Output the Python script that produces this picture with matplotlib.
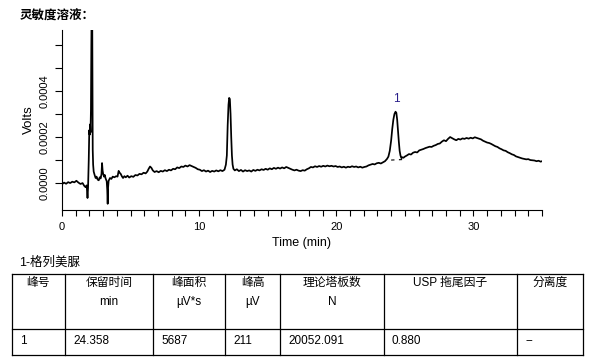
import numpy as np
import matplotlib
matplotlib.use('Agg')
import matplotlib.pyplot as plt

plt.rcParams['font.family'] = ['Liberation Sans', 'Noto Sans CJK SC']

# chromatogram, time in min, signal in 1e-4 V
time_min = [
    0.00, 0.15, 0.30, 0.45, 0.60, 0.75, 0.90, 1.05, 1.20, 1.35, 1.50, 1.62, 1.72, 1.80, 1.86, 1.90,
    1.95, 1.99, 2.02, 2.05, 2.08, 2.11, 2.14, 2.17, 2.20, 2.22, 2.24, 2.27, 2.31, 2.38, 2.45, 2.52,
    2.60, 2.68, 2.75, 2.82, 2.88, 2.92, 2.96, 3.00, 3.06, 3.12, 3.18, 3.26, 3.30, 3.33, 3.36, 3.40,
    3.50, 3.60, 3.70, 3.82, 3.95, 4.05, 4.13, 4.20, 4.28, 4.36, 4.45, 4.55, 4.65, 4.78, 4.90, 5.05,
    5.20, 5.35, 5.50, 5.65, 5.80, 5.95, 6.10, 6.22, 6.32, 6.42, 6.52, 6.62, 6.75, 6.90, 7.05, 7.20,
    7.35, 7.50, 7.65, 7.80, 7.95, 8.10, 8.25, 8.40, 8.55, 8.70, 8.85, 9.00, 9.15, 9.30, 9.45, 9.60,
    9.75, 9.90, 10.05, 10.20, 10.35, 10.50, 10.65, 10.80, 10.95, 11.10, 11.25, 11.40, 11.55, 11.70,
    11.85, 11.95, 12.02, 12.08, 12.14, 12.19, 12.24, 12.29, 12.34, 12.39, 12.44, 12.50, 12.60, 12.75,
    12.90, 13.05, 13.20, 13.35, 13.50, 13.65, 13.80, 13.95, 14.10, 14.25, 14.40, 14.55, 14.70, 14.85,
    15.00, 15.15, 15.30, 15.45, 15.60, 15.75, 15.90, 16.05, 16.20, 16.35, 16.50, 16.65, 16.80, 16.95,
    17.10, 17.25, 17.40, 17.55, 17.70, 17.85, 18.00, 18.15, 18.30, 18.45, 18.60, 18.75, 18.90, 19.05,
    19.20, 19.35, 19.50, 19.65, 19.80, 19.95, 20.10, 20.25, 20.40, 20.55, 20.70, 20.85, 21.00, 21.15,
    21.30, 21.45, 21.60, 21.75, 21.90, 22.05, 22.20, 22.35, 22.50, 22.65, 22.80, 22.95, 23.10, 23.25,
    23.40, 23.55, 23.70, 23.80, 23.90, 24.00, 24.08, 24.16, 24.24, 24.32, 24.38, 24.44, 24.50, 24.56,
    24.62, 24.68, 24.75, 24.82, 24.90, 25.00, 25.15, 25.30, 25.45, 25.60, 25.75, 25.90, 26.05, 26.20,
    26.35, 26.50, 26.65, 26.80, 26.95, 27.10, 27.25, 27.40, 27.55, 27.70, 27.85, 28.00, 28.15, 28.30,
    28.45, 28.60, 28.75, 28.90, 29.05, 29.20, 29.35, 29.50, 29.65, 29.80, 29.95, 30.10, 30.25, 30.40,
    30.55, 30.70, 30.85, 31.00, 31.15, 31.30, 31.45, 31.60, 31.75, 31.90, 32.05, 32.20, 32.35, 32.50,
    32.65, 32.80, 32.95, 33.10, 33.25, 33.40, 33.55, 33.70, 33.85, 34.00, 34.15, 34.30, 34.45, 34.60,
    34.75, 34.90, 35.00,
]
signal = [
    -0.05, 0.02, -0.03, 0.04, 0.00, 0.06, 0.03, 0.10, 0.02, -0.04, 0.00, -0.12, -0.18, -0.10, -0.65, -0.20,
    1.00, 2.30, 2.10, 2.55, 2.20, 3.20, 6.00, 8.00, 8.00, 4.00, 1.45, 0.80, 0.50, 0.35, 0.22, 0.28,
    0.15, 0.12, 0.25, 0.20, 0.40, 0.87, 0.55, 0.40, 0.28, 0.35, 0.20, 0.08, -0.30, -0.90, -0.20, 0.10,
    0.22, 0.18, 0.28, 0.25, 0.30, 0.28, 0.53, 0.45, 0.40, 0.30, 0.22, 0.30, 0.25, 0.32, 0.24, 0.30,
    0.27, 0.35, 0.33, 0.40, 0.38, 0.45, 0.42, 0.50, 0.62, 0.72, 0.66, 0.55, 0.48, 0.52, 0.47, 0.53,
    0.50, 0.56, 0.52, 0.58, 0.55, 0.62, 0.60, 0.68, 0.65, 0.72, 0.70, 0.76, 0.72, 0.78, 0.74, 0.70,
    0.66, 0.60, 0.58, 0.52, 0.56, 0.50, 0.54, 0.48, 0.53, 0.50, 0.55, 0.51, 0.56, 0.52,
    0.58, 0.80, 1.20, 2.50, 3.40, 3.70, 3.65, 3.00, 2.00, 1.20, 0.80, 0.62, 0.55, 0.60,
    0.52, 0.57, 0.50, 0.56, 0.52, 0.55, 0.50, 0.57, 0.53, 0.58, 0.55, 0.60, 0.57, 0.62,
    0.58, 0.64, 0.60, 0.66, 0.62, 0.67, 0.63, 0.68, 0.64, 0.70, 0.66, 0.62, 0.58, 0.55,
    0.58, 0.54, 0.52, 0.56, 0.54, 0.60, 0.64, 0.70, 0.68, 0.73, 0.70, 0.74, 0.71, 0.75,
    0.72, 0.76, 0.73, 0.75, 0.72, 0.74, 0.70, 0.72, 0.68, 0.71, 0.67, 0.71, 0.69, 0.73,
    0.70, 0.72, 0.68, 0.71, 0.67, 0.70, 0.72, 0.77, 0.80, 0.83, 0.81, 0.86, 0.88, 0.85,
    0.90, 0.95, 1.05, 1.15, 1.40, 1.85, 2.35, 2.75, 3.00, 3.10, 3.05, 2.75, 2.25, 1.80,
    1.40, 1.20, 1.08, 1.12, 1.10, 1.15, 1.20, 1.26, 1.24, 1.32, 1.35, 1.33, 1.42, 1.45,
    1.48, 1.52, 1.55, 1.58, 1.57, 1.62, 1.65, 1.70, 1.72, 1.80, 1.86, 1.82, 1.92, 2.00,
    1.95, 1.90, 1.86, 1.92, 1.89, 1.94, 1.92, 1.96, 1.93, 1.97, 1.94, 1.99, 1.96, 1.93,
    1.90, 1.84, 1.80, 1.76, 1.74, 1.70, 1.65, 1.60, 1.57, 1.51, 1.47, 1.42, 1.40, 1.34,
    1.30, 1.25, 1.22, 1.16, 1.13, 1.10, 1.07, 1.05, 1.03, 1.04, 1.00, 0.99, 0.98, 0.95,
    0.97, 0.93, 0.95,
]

peak_label = "1"
peak_rt = 24.358
peak_top = 3.10
peak_base_t = [24.00, 24.80]
peak_base_v = [1.00, 1.02]

y_ticks = [0, 1, 2, 3, 4, 5, 6]
y_labels = ["0.0000", "", "0.0002", "", "0.0004", "", ""]

table_title = "1-格列美脲"
col_head = ["峰号", "保留时间", "峰面积", "峰高", "理论塔板数", "USP 拖尾因子", "分离度"]
col_unit = ["", "min", "µV*s", "µV", "N", "", ""]
row_vals = ["1", "24.358", "5687", "211", "20052.091", "0.880", "--"]

t = np.array(time_min)
v = np.array(signal) * 1e-4

fig = plt.figure(figsize=(5.95, 3.63), dpi=100)

# overlay in pixel coords for title and table
ov = fig.add_axes([0, 0, 1, 1])
ov.set_xlim(0, 595)
ov.set_ylim(363, 0)
ov.axis('off')
ov.text(20, 17, "灵敏度溶液：", fontsize=9, fontweight='bold', va='center', ha='left')
ov.text(19, 263, table_title, fontsize=9, va='center', ha='left')

edges = [11.7, 65, 153, 225, 280, 384, 517, 583]
top, mid, bot = 274, 329, 355
for yy in [top, mid, bot]:
    ov.plot([edges[0], edges[-1]], [yy, yy], color='black', lw=0.9)
for xx in edges:
    ov.plot([xx, xx], [top, bot], color='black', lw=0.9)
for i in range(len(col_head)):
    cx = (edges[i] + edges[i + 1]) / 2
    ov.text(cx, 283, col_head[i], fontsize=8.5, ha='center', va='center')
    if col_unit[i]:
        ov.text(cx, 302, col_unit[i], fontsize=8.5, ha='center', va='center')
    ov.text(edges[i] + 8, 341, row_vals[i], fontsize=8.5, ha='left', va='center')

ax = fig.add_axes([62 / 595, 1 - 210 / 363, 480 / 595, 180 / 363])
ax.plot(t, v, color='black', lw=1.25)
ax.plot(peak_base_t, np.array(peak_base_v) * 1e-4, color='black', lw=0.8,
        linestyle=(0, (3, 4)))
ax.annotate(peak_label, (peak_rt, peak_top * 1e-4), xytext=(0, 5),
            textcoords='offset points', ha='center', va='bottom',
            fontsize=8.5, color='#2a1f8a')

ax.set_xlim(0, 35)
ax.set_ylim(-1.17e-4, 6.65e-4)
ax.set_xticks(np.arange(0, 36, 10))
ax.set_xticks(np.arange(0, 36, 1), minor=True)
ax.set_xticklabels(["0", "10", "20", "30"], fontsize=8)
ax.set_yticks(np.array(y_ticks) * 1e-4)
ax.set_yticklabels(y_labels, rotation=90, va='center', fontsize=8)
ax.tick_params(axis='x', which='both', length=4, width=0.8, pad=5)
ax.tick_params(axis='y', length=5, width=0.8, pad=4)
for s in ['top', 'right']:
    ax.spines[s].set_visible(False)
for s in ['left', 'bottom']:
    ax.spines[s].set_linewidth(0.8)
ax.set_xlabel("Time (min)", fontsize=9, labelpad=3)
ax.set_ylabel("Volts", fontsize=9.5, labelpad=3)
ax.patch.set_alpha(0)

fig.savefig('out.png', dpi=100)
